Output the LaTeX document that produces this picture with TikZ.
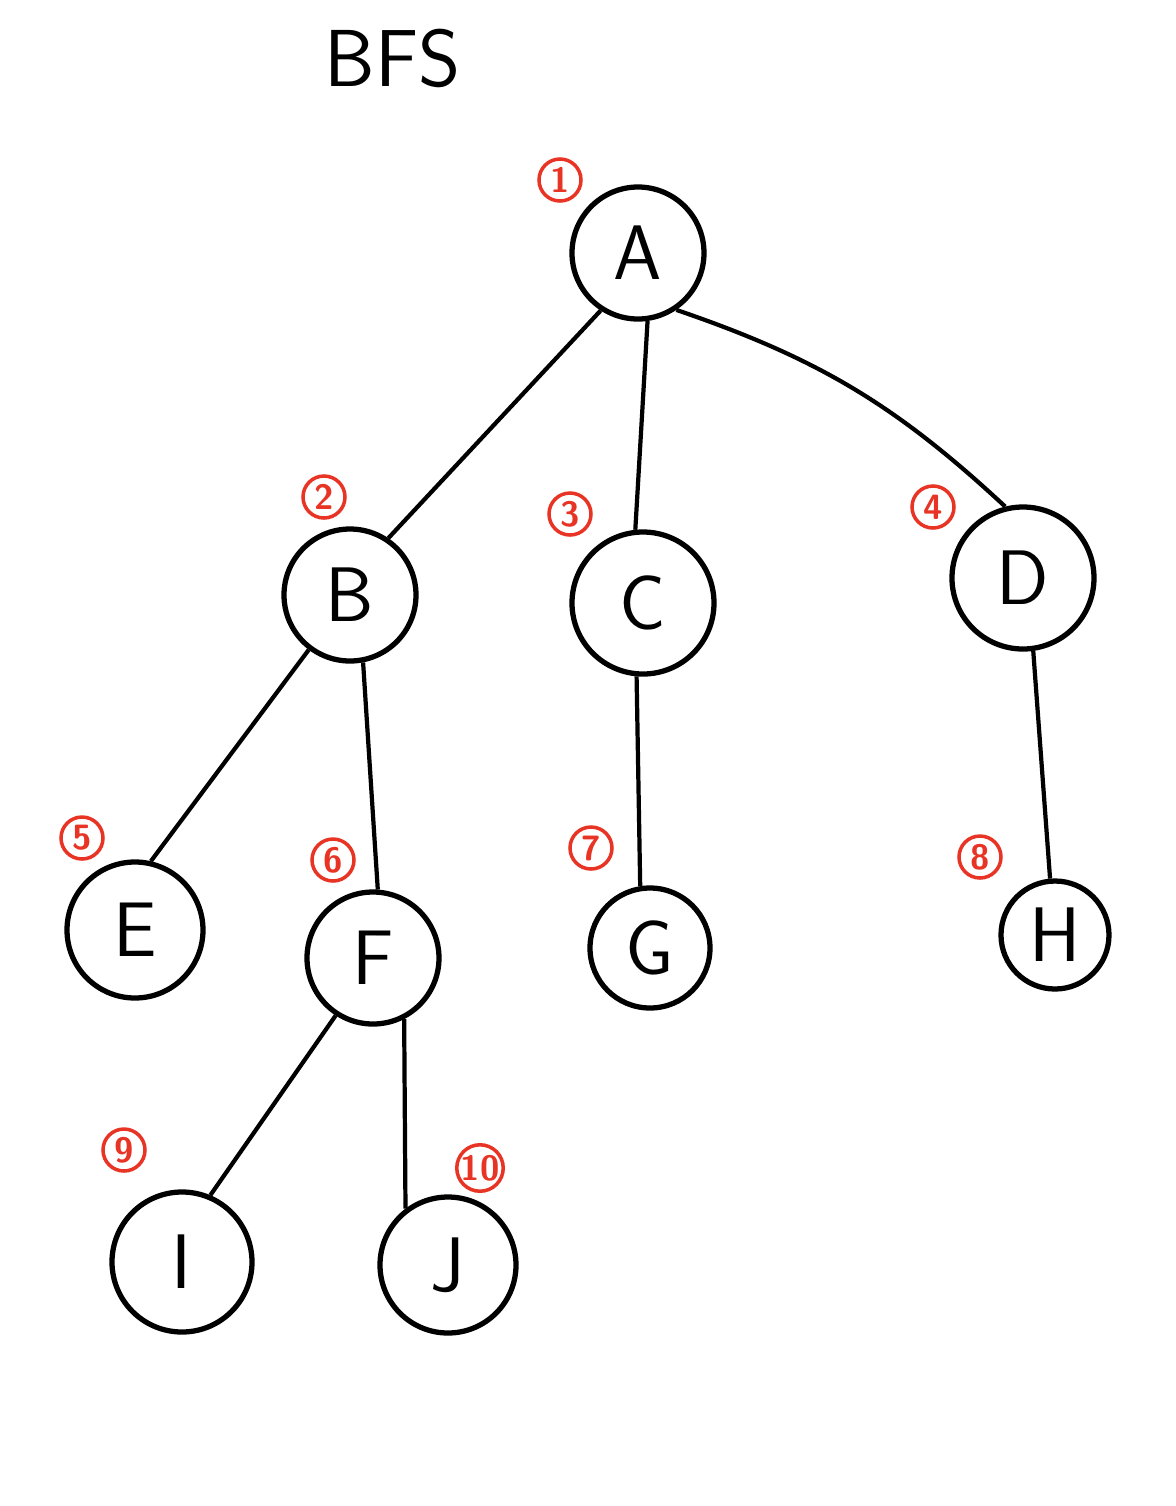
\documentclass[tikz,border=0pt]{standalone}
\usepackage{xcolor}
\usepackage{tikz}
\usetikzlibrary{arrows.meta,positioning}
\definecolor{numred}{RGB}{232,52,36}

\begin{document}
\begin{tikzpicture}[
  vert/.style={draw, circle, line width=1.5pt, minimum size=1.32cm, inner sep=0pt, font=\fontsize{22}{26}\selectfont\sffamily},
  order/.style={draw=numred, circle, line width=1pt, minimum size=0.42cm, inner sep=0pt, text=numred, font=\fontsize{10}{12}\selectfont\sffamily\bfseries},
  edge/.style={line width=1.2pt}
]
\useasboundingbox (0,0) rectangle (11.76,-15.06);
\node[font=\fontsize{23}{27}\selectfont\sffamily] (title) at (3.93,-0.58) {BFS};
\node[vert] (a) at (6.38,-2.53) {A};
\node[vert] (b) at (3.50,-5.95) {B};
\node[vert, minimum size=1.42cm] (c) at (6.43,-6.03) {C};
\node[vert, minimum size=1.42cm] (d) at (10.23,-5.78) {D};
\node[vert, minimum size=1.36cm] (e) at (1.35,-9.30) {E};
\node[vert] (f) at (3.73,-9.58) {F};
\node[vert, minimum size=1.2cm] (g) at (6.50,-9.48) {G};
\node[vert, minimum size=1.08cm] (h) at (10.55,-9.35) {H};
\node[vert, minimum size=1.4cm] (i) at (1.82,-12.62) {I};
\node[vert, minimum size=1.36cm] (j) at (4.48,-12.65) {J};
\node[order] (n1) at (5.60,-1.80) {1};
\node[order] (n2) at (3.24,-4.97) {2};
\node[order] (n3) at (5.70,-5.14) {3};
\node[order] (n4) at (9.33,-5.07) {4};
\node[order] (n5) at (0.82,-8.38) {5};
\node[order] (n6) at (3.33,-8.60) {6};
\node[order] (n7) at (5.91,-8.48) {7};
\node[order] (n8) at (9.80,-8.57) {8};
\node[order] (n9) at (1.24,-11.50) {9};
\node[order] (n10) at (4.80,-11.68) {10};
\draw[edge] (a.237) -- (b.56);
\draw[edge] (a.278) -- (c.96);
\draw[edge] (a.304) to[bend left=12] (d.104);
\draw[edge] (b.233) -- (e.77);
\draw[edge] (b.281) -- (f.86);
\draw[edge] (c.265) -- (g.99);
\draw[edge] (d.278) -- (h.95);
\draw[edge] (f.237) -- (i.67);
\draw[edge] (f.297) -- (j.127);
\end{tikzpicture}
\end{document}
